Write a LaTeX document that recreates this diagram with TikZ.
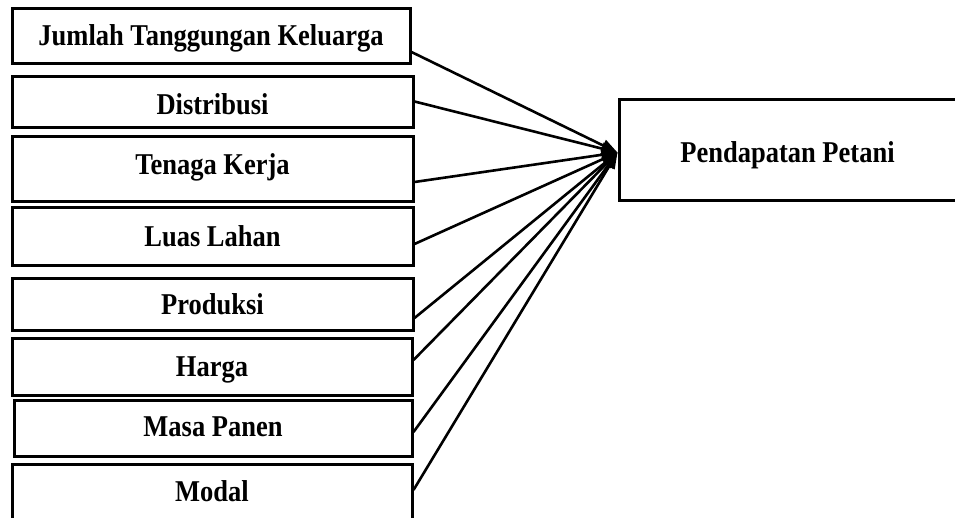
\documentclass[tikz,border=0pt]{standalone}
\usepackage{graphicx}
\usepackage{fontspec}
\setmainfont{Liberation Serif}
\usetikzlibrary{arrows.meta}

% bold labels are set slightly condensed (stretched vertically)
\newcommand\tallbf[2][0pt]{\raisebox{#1}{\scalebox{1}[1.14]{#2}}}

\begin{document}
\begin{tikzpicture}[x=1pt,y=-1pt,
  factor/.style={draw, line width=3pt, rectangle, inner sep=0pt,
    font=\fontsize{26.5}{30}\selectfont\bfseries,
    text height=20pt, text depth=0pt, minimum width=#1},
  factor/.default=401pt,
  link/.style={line width=2.6pt, -{Triangle[length=16pt,width=12pt]}}
]
\useasboundingbox (0,0) rectangle (955,517);

% independent variables, stacked on the left
\node[factor=398pt, minimum height=55pt] (b1) at (211,35.5) {\tallbf{Jumlah Tanggungan Keluarga}};
\node[factor, minimum height=51pt] (b2) at (212.5,101.5) {\tallbf[-2.5pt]{Distribusi}};
\node[factor, minimum height=65pt] (b3) at (212.5,168.5) {\tallbf[4.5pt]{Tenaga Kerja}};
\node[factor, minimum height=58pt] (b4) at (212.5,236) {\tallbf{Luas Lahan}};
\node[factor, minimum height=52pt] (b5) at (212.5,304) {\tallbf{Produksi}};
\node[factor=400pt, minimum height=57pt] (b6) at (212,366.5) {\tallbf{Harga}};
\node[factor=398pt, minimum height=56pt] (b7) at (213,428) {\tallbf[1.5pt]{Masa Panen}};
\node[factor=400pt, minimum height=66pt] (b8) at (212,497) {\tallbf[6pt]{Modal}};

% dependent variable
\node[factor=337pt, minimum height=101pt] (p) at (787.5,149.5) {\tallbf[-2.5pt]{Pendapatan Petani}};

\coordinate (tip) at ([yshift=-3pt]p.west);

\draw[link] ([yshift=-16.5pt]b1.east) -- (tip);
\draw[link] (b2.east) -- (tip);
\draw[link] ([yshift=-13.5pt]b3.east) -- (tip);
\draw[link] ([yshift=-8pt]b4.east) -- (tip);
\draw[link] ([yshift=-14pt]b5.east) -- (tip);
\draw[link] ([yshift=6.5pt]b6.east) -- (tip);
\draw[link] ([yshift=-4pt]b7.east) -- (tip);
\draw[link] ([yshift=7pt]b8.east) -- (tip);
\end{tikzpicture}
\end{document}
